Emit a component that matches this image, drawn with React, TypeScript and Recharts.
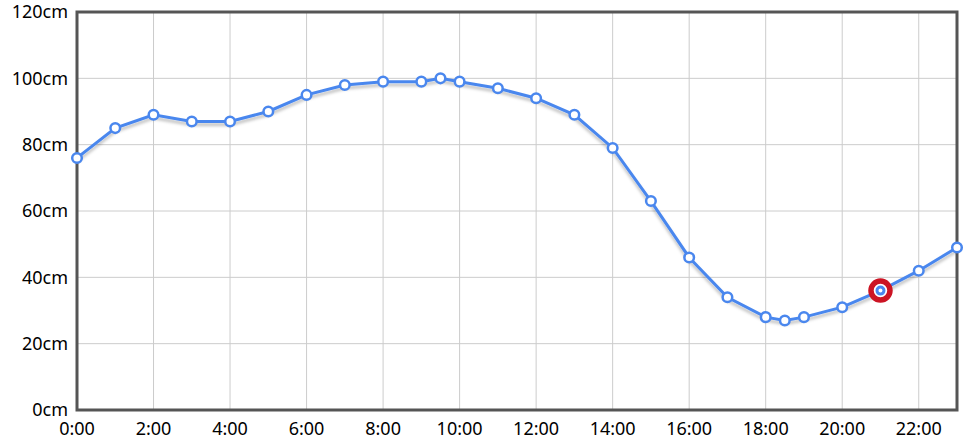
import { LineChart, Line, XAxis, YAxis, CartesianGrid, ReferenceArea } from 'recharts';

const hours = [0, 1, 2, 3, 4, 5, 6, 7, 8, 9, 9.5, 10, 11, 12, 13, 14, 15, 16, 17, 18, 18.5, 19, 20, 21, 22, 23];
const levels = [76, 85, 89, 87, 87, 90, 95, 98, 99, 99, 100, 99, 97, 94, 89, 79, 63, 46, 34, 28, 27, 28, 31, 36, 42, 49];
const xTicks = [0, 2, 4, 6, 8, 10, 12, 14, 16, 18, 20, 22];
const yTicks = [0, 20, 40, 60, 80, 100, 120];
const currentHour = 21;

const data = hours.map((h, i) => ({ hour: h, level: levels[i] }));

const BLUE = '#4a87ee';
const FONT = '"Noto Sans", "Open Sans", sans-serif';

const renderDot = (props: any) => {
    const { cx, cy, payload, index } = props;
    if (cx == null || cy == null) return <g key={index} />;
    if (payload.hour === currentHour) {
        return (
            <g key={index}>
                <circle cx={cx} cy={cy} r={9.5} fill="#fff" stroke="#cc1424" strokeWidth={5.5} />
                <circle cx={cx} cy={cy} r={3.5} fill="#fff" stroke={BLUE} strokeWidth={3} />
            </g>
        );
    }
    return <circle key={index} cx={cx} cy={cy} r={4.8} fill="#fff" stroke={BLUE} strokeWidth={2.5} />;
};

export default function App() {
    return (
        <div style={{ position: 'absolute', left: 0, top: 0, width: 975, height: 448, background: '#fff' }}>
            <LineChart width={975} height={448} data={data} margin={{ top: 12, right: 18, left: 0, bottom: 0 }}>
                <defs>
                    <filter id="lineShadow" x="-5%" y="-10%" width="110%" height="130%">
                        <feDropShadow dx="0" dy="3" stdDeviation="1.5" floodColor="#000" floodOpacity="0.25" />
                    </filter>
                </defs>
                <CartesianGrid stroke="#cccccc" strokeWidth={1} />
                <XAxis
                    dataKey="hour"
                    type="number"
                    domain={[0, 23]}
                    ticks={xTicks}
                    tickFormatter={(h: number) => `${h}:00`}
                    height={38}
                    axisLine={false}
                    tickLine={false}
                    tick={{ fill: '#000', fontSize: 18, fontFamily: FONT }}
                    tickMargin={6}
                    interval={0}
                />
                <YAxis
                    type="number"
                    domain={[0, 120]}
                    ticks={yTicks}
                    tickFormatter={(v: number) => `${v}cm`}
                    width={77}
                    axisLine={false}
                    tickLine={false}
                    tick={{ fill: '#000', fontSize: 18, fontFamily: FONT }}
                    tickMargin={3}
                    interval={0}
                />
                <ReferenceArea x1={0} x2={23} y1={0} y2={120} fill="none" stroke="#555" strokeWidth={3} />
                <Line
                    type="linear"
                    dataKey="level"
                    stroke={BLUE}
                    strokeWidth={3}
                    filter="url(#lineShadow)"
                    dot={renderDot}
                    activeDot={false}
                    isAnimationActive={false}
                />
            </LineChart>
        </div>
    );
}
